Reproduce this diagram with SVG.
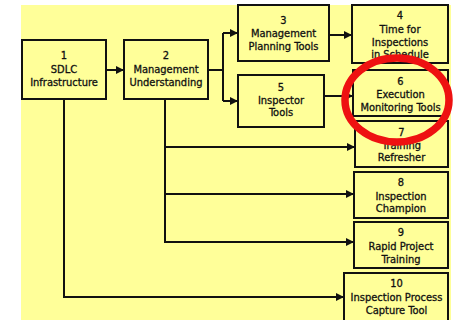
<svg xmlns="http://www.w3.org/2000/svg" width="453" height="320" viewBox="0 0 453 320">
  <style>
    .box { fill: #ffff99; stroke: #111; stroke-width: 2; }
    .lbl { font-family: "DejaVu Sans Condensed", "DejaVu Sans", sans-serif; font-stretch: condensed; font-size: 11px; fill: #111; stroke: #111; stroke-width: 0.3; text-anchor: middle; }
    .wire { fill: none; stroke: #111; stroke-width: 2; }
  </style>
  <defs>
    <marker id="arrow" viewBox="0 0 8 8" refX="8" refY="4" markerWidth="8" markerHeight="8" markerUnits="userSpaceOnUse" orient="auto">
      <path d="M0,0 L8,4 L0,8 Z" fill="#111"/>
    </marker>
  </defs>

  <rect x="0" y="0" width="453" height="320" fill="#ffffff"/>
  <rect x="21" y="5" width="430" height="315" fill="#ffff99"/>

  <g id="connectors">
    <line class="wire" x1="106" y1="70" x2="124" y2="70" marker-end="url(#arrow)"/>
    <path class="wire" d="M208,70 H223"/>
    <path class="wire" d="M223,33 V101"/>
    <line class="wire" x1="223" y1="33" x2="238" y2="33" marker-end="url(#arrow)"/>
    <line class="wire" x1="223" y1="101" x2="238" y2="101" marker-end="url(#arrow)"/>
    <line class="wire" x1="329" y1="35" x2="352" y2="35" marker-end="url(#arrow)"/>
    <line class="wire" x1="324" y1="96" x2="353" y2="96" marker-end="url(#arrow)"/>
    <path class="wire" d="M165,99 V242"/>
    <line class="wire" x1="165" y1="147" x2="355" y2="147" marker-end="url(#arrow)"/>
    <line class="wire" x1="165" y1="194" x2="354" y2="194" marker-end="url(#arrow)"/>
    <line class="wire" x1="164" y1="242" x2="354" y2="242" marker-end="url(#arrow)"/>
    <path class="wire" d="M64,99 V297"/>
    <line class="wire" x1="63" y1="297" x2="344" y2="297" marker-end="url(#arrow)"/>
  </g>

  <g id="n1">
    <rect class="box" x="22" y="40" width="84" height="59"/>
    <text class="lbl" x="64" y="59">1</text>
    <text class="lbl" x="64" y="73">SDLC</text>
    <text class="lbl" x="64" y="86">Infrastructure</text>
  </g>
  <g id="n2">
    <rect class="box" x="124" y="40" width="84" height="59"/>
    <text class="lbl" x="166" y="59">2</text>
    <text class="lbl" x="166" y="73">Management</text>
    <text class="lbl" x="166" y="86">Understanding</text>
  </g>
  <g id="n3">
    <rect class="box" x="238" y="5" width="91" height="56"/>
    <text class="lbl" x="283.5" y="24">3</text>
    <text class="lbl" x="283.5" y="37">Management</text>
    <text class="lbl" x="283.5" y="50">Planning Tools</text>
  </g>
  <g id="n4">
    <rect class="box" x="352" y="5" width="96" height="58"/>
    <text class="lbl" x="400" y="19">4</text>
    <text class="lbl" x="400" y="33">Time for</text>
    <text class="lbl" x="400" y="46">Inspections</text>
    <text class="lbl" x="400" y="58">in Schedule</text>
  </g>
  <g id="n5">
    <rect class="box" x="238" y="75" width="86" height="52"/>
    <text class="lbl" x="281" y="91">5</text>
    <text class="lbl" x="281" y="104">Inspector</text>
    <text class="lbl" x="281" y="116">Tools</text>
  </g>
  <g id="n6">
    <rect class="box" x="353" y="70" width="95" height="46"/>
    <text class="lbl" x="400.5" y="85">6</text>
    <text class="lbl" x="400.5" y="98">Execution</text>
    <text class="lbl" x="400.5" y="111">Monitoring Tools</text>
  </g>
  <g id="n7">
    <rect class="box" x="355" y="121" width="93" height="46"/>
    <text class="lbl" x="401.5" y="136">7</text>
    <text class="lbl" x="401.5" y="149">Training</text>
    <text class="lbl" x="401.5" y="161">Refresher</text>
  </g>
  <g id="n8">
    <rect class="box" x="354" y="172" width="94" height="46"/>
    <text class="lbl" x="401" y="186">8</text>
    <text class="lbl" x="401" y="200">Inspection</text>
    <text class="lbl" x="401" y="212">Champion</text>
  </g>
  <g id="n9">
    <rect class="box" x="354" y="222" width="94" height="46"/>
    <text class="lbl" x="401" y="236">9</text>
    <text class="lbl" x="401" y="250">Rapid Project</text>
    <text class="lbl" x="401" y="263">Training</text>
  </g>
  <g id="n10">
    <rect class="box" x="344" y="273" width="104" height="52"/>
    <text class="lbl" x="396.5" y="287">10</text>
    <text class="lbl" x="396.5" y="301">Inspection Process</text>
    <text class="lbl" x="396.5" y="314">Capture Tool</text>
  </g>

  <g id="highlight">
    <ellipse cx="397" cy="100" rx="52" ry="42" fill="none" stroke="#ee1111" stroke-width="7.5"/>
  </g>
</svg>
